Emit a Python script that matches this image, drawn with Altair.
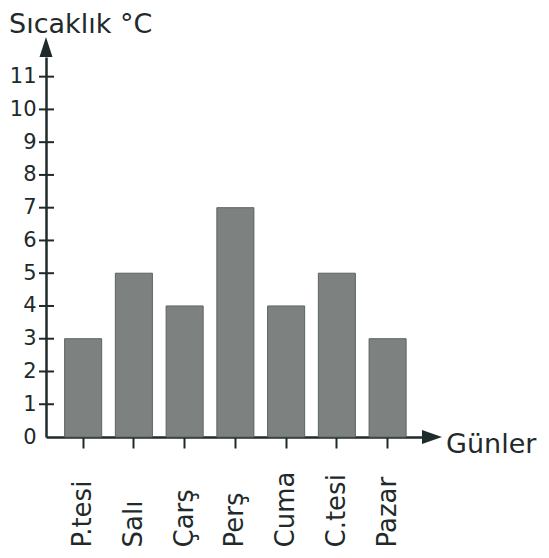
import altair as alt
import pandas as pd

days = ["P.tesi", "Salı", "Çarş", "Perş", "Cuma", "C.tesi", "Pazar"]
temps = [3, 5, 4, 7, 4, 5, 3]
y_ticks = list(range(1, 12))
y_labels = list(range(0, 12))

DARK = "#1f2a2a"
FONT = "DejaVu Sans"
W, H = 376, 380

bars_df = pd.DataFrame({"gun": days, "sicaklik": temps})
ticks_df = pd.DataFrame({"v": y_ticks})
one = pd.DataFrame({"k": [0]})

yscale = alt.Scale(domain=[0, 11.6], nice=False, zero=True)
y_axis = alt.Axis(values=y_labels, domain=True, domainColor=DARK, domainWidth=2.5,
                  ticks=False, labelPadding=10, labelFont=FONT, labelFontSize=21,
                  labelColor=DARK, grid=False, labelOverlap=False,
                  labelFlush=False, labelBound=False)

bars = alt.Chart(bars_df).mark_bar(color="#7d8280", stroke="#5d6361", strokeWidth=1).encode(
    x=alt.X("gun:N", sort=days, title=None,
            scale=alt.Scale(paddingInner=0.27, paddingOuter=0.34, align=0.54),
            axis=alt.Axis(domain=True, domainColor=DARK, domainWidth=2.5,
                          ticks=True, tickColor=DARK, tickWidth=2, tickSize=11,
                          labelAngle=270, labelAlign="left", labelBaseline="middle",
                          labelPadding=99, labelFont=FONT, labelFontSize=26,
                          labelColor=DARK, labelOverlap=False, labelFlush=False,
                          labelBound=False, grid=False)),
    y=alt.Y("sicaklik:Q", scale=yscale, title=None, axis=y_axis),
)

tick_rules = alt.Chart(ticks_df).mark_rule(color=DARK, strokeWidth=2).encode(
    y=alt.Y("v:Q", scale=yscale, title=None, axis=y_axis),
    x=alt.value(-7),
    x2=alt.value(8),
)

arrow_up = alt.Chart(one).mark_point(
    shape="M0,-1L0.65,1L-0.65,1Z", filled=True, size=400, color=DARK, opacity=1
).encode(x=alt.value(0), y=alt.value(-10))

arrow_right = alt.Chart(one).mark_point(
    shape="M-1,-0.7L1,0L-1,0.7Z", filled=True, size=400, color=DARK, opacity=1
).encode(x=alt.value(W + 10), y=alt.value(H))

title_txt = alt.Chart(one).mark_text(
    text="Sıcaklık °C", font=FONT, fontSize=27, color=DARK, align="left", baseline="alphabetic"
).encode(x=alt.value(-37), y=alt.value(-24))

gunler_txt = alt.Chart(one).mark_text(
    text="Günler", font=FONT, fontSize=27, color=DARK, align="left", baseline="middle"
).encode(x=alt.value(W + 24), y=alt.value(H + 8))

chart = alt.layer(bars, tick_rules, arrow_up, arrow_right, title_txt, gunler_txt).properties(
    width=W, height=H,
    autosize=alt.AutoSizeParams(type="none"),
    padding={"left": 38, "top": 49, "right": 119, "bottom": 113},
    background="white",
).configure_view(stroke=None)

chart.save("out.html", embed_options={"renderer": "svg", "actions": False})
